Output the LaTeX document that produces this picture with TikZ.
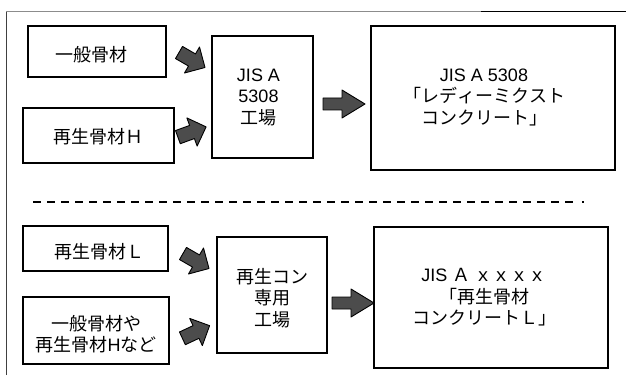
\documentclass[tikz,border=0pt]{standalone}
\usepackage{fontspec}
\setmainfont{Noto Sans CJK JP}[Kerning=Off]
\newfontfamily\lat{Liberation Sans}
\begin{document}
\begin{tikzpicture}[x=1pt,y=-1pt,
  box/.style={draw=black, line width=1.7pt, inner sep=0pt},
  txt/.style={font=\fontsize{18}{21.5}\selectfont, align=center, inner sep=0pt},
  arrfill/.style={fill=black!70, draw=black, line width=0.9pt, line join=round},
  smallarr/.pic={\filldraw[arrfill]
     (-15,-7) -- (0,-7) -- (0,-15) -- (15,0) -- (0,15) -- (0,7) -- (-15,7) -- cycle;},
  bigarr/.pic={\filldraw[arrfill]
     (-21,-6) -- (-2,-6) -- (-2,-14) -- (21,0) -- (-2,14) -- (-2,6) -- (-21,6) -- cycle;}]
\useasboundingbox (0,0) rectangle (626,377);
% frame
\draw[black!75, line width=1pt] (6,375) -- (6,12);
\draw[black!45, line width=1pt] (6,12) -- (481,12);
\draw[black, line width=1pt] (481,12) -- (626,12);
% top row boxes
\node[box, minimum width=138pt, minimum height=51pt] (A) at (97,51.5) {};
\node[txt] (tA) at ([shift={(-6,3.5)}]A.center) {一般骨材};
\node[box, minimum width=151pt, minimum height=55pt] (B) at (98.5,135.5) {};
\node[txt] (tB) at ([shift={(0,1.5)}]B.center) {再生骨材Ｈ};
\node[box, minimum width=101pt, minimum height=122pt] (C) at (262.5,97) {};
\node[txt] (tC) at ([shift={(-4,0)}]C.center) {{\lat JIS A}\\{\lat 5308}\\工場};
\node[box, minimum width=244pt, minimum height=144pt] (D) at (493,98) {};
\node[txt] (tD) at ([shift={(-9,-1)}]D.center) {{\lat JIS A 5308}\\「レディーミクスト\\コンクリート」};
% top arrows
\pic[rotate=-30] at (192,60) {smallarr};
\pic[rotate=20] at (192,132) {smallarr};
\pic at (344,104) {bigarr};
% separator
\draw[line width=1.5pt, dash pattern=on 8pt off 6pt] (33,202) -- (578,202);
\fill (582,200.8) rectangle (584,203.2);
% bottom row boxes
\node[box, minimum width=145pt, minimum height=45pt] (E) at (95.5,248.5) {};
\node[txt] (tE) at ([shift={(3.5,3.5)}]E.center) {再生骨材Ｌ};
\node[box, minimum width=146pt, minimum height=67pt] (F) at (96,330.5) {};
\node[txt] (tF) at ([shift={(0,3.5)}]F.center) {一般骨材や\\再生骨材{\lat H}など};
\node[box, minimum width=110pt, minimum height=116pt] (G) at (272,295) {};
\node[txt] (tG) at ([shift={(0,3)}]G.center) {再生コン\\専用\\工場};
\node[box, minimum width=234pt, minimum height=141pt] (H) at (491,297.5) {};
\node[txt] (tH) at ([shift={(-7,0)}]H.center) {{\lat JIS }Ａ ｘｘｘｘ\\「再生骨材\\コンクリートＬ」};
% bottom arrows
\pic[rotate=-30] at (196,261) {smallarr};
\pic[rotate=25] at (196,332) {smallarr};
\pic at (353,303) {bigarr};
\end{tikzpicture}
\end{document}
